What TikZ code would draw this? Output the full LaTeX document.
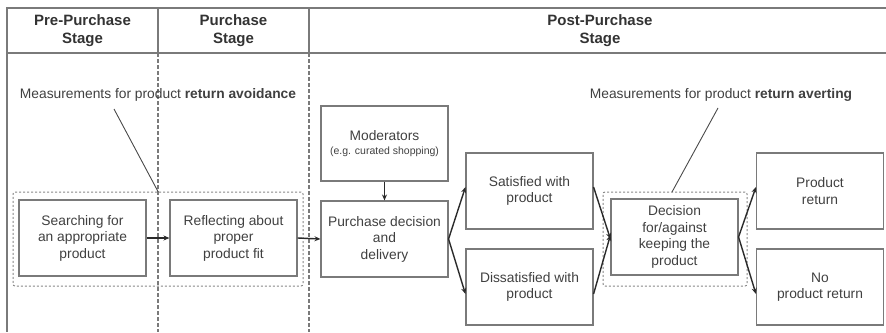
\documentclass[tikz,border=0pt]{standalone}
\usepackage{fontspec}
\setmainfont{Liberation Sans}
\usetikzlibrary{arrows.meta}
\definecolor{frame}{HTML}{7A7A7A}
\definecolor{txt}{HTML}{404040}
\definecolor{arr}{HTML}{2A2A2A}
\tikzset{
  box/.style={draw=frame, line width=1.1pt, minimum width=127pt, minimum height=76pt, align=center, text=txt, font=\fontsize{13.8}{16.5}\selectfont, inner sep=0pt},
  grp/.style={draw=frame!90, line width=1pt, dash pattern=on 2pt off 2pt, rounded corners=2pt},
  divider/.style={draw=frame, line width=1.3pt, dash pattern=on 3.5pt off 2.5pt},
  hline/.style={draw=frame, line width=1.4pt},
  conn/.style={draw=arr, line width=1.4pt, -{Stealth[length=6pt,width=5pt]}},
  leader/.style={draw=arr!85, line width=0.9pt},
  head/.style={align=center, text=txt!80!black, font=\fontsize{15}{18}\selectfont\bfseries},
  note/.style={text=txt, font=\fontsize{13.8}{16}\selectfont, inner sep=0pt}
}
\begin{document}
\begin{tikzpicture}[x=1pt,y=-1pt]
\useasboundingbox (0,0) rectangle (886,332);
% header frame
\draw[hline] (886,8) -- (7,8) -- (7,332);
\draw[hline] (7,53) -- (886,53);
\draw[hline] (158,8) -- (158,53);
\draw[hline] (309,8) -- (309,53);
\draw[divider] (158,53) -- (158,332);
\draw[divider] (309,53) -- (309,332);
\node[head] (h1) at (82.5,31) {Pre-Purchase\\Stage};
\node[head] (h2) at (233.5,31) {Purchase\\Stage};
\node[head] (h3) at (600,31) {Post-Purchase\\Stage};
% groups
\node[grp, minimum width=290pt, minimum height=94pt, inner sep=0pt] (g1) at (158,239) {};
\node[grp, minimum width=144pt, minimum height=94pt, inner sep=0pt] (g2) at (675,239) {};
% notes
\node[note] (n1) at (158,95) {Measurements for product \textbf{return avoidance}};
\node[note] (n2) at (721,95) {Measurements for product \textbf{return averting}};
\coordinate (n1e) at (114,109);
\coordinate (n2e) at (718,108);
\draw[leader] (n1e) -- (g1.north);
\draw[leader] (n2e) -- (672,192);
% boxes
\node[box] (s) at (82.5,238) {Searching for\\an appropriate\\product};
\node[box] (r) at (233.5,238) {Reflecting about\\proper\\product fit};
\node[box, minimum height=75pt] (m) at (384.5,143.5) {Moderators\\[-2pt]{\fontsize{10.5}{12}\selectfont (e.g. curated shopping)}};
\node[box] (p) at (384.5,239) {Purchase decision\\and\\delivery};
\node[box] (sat) at (529.5,191) {Satisfied with\\product};
\node[box] (dis) at (529.5,287) {Dissatisfied with\\product};
\node[box] (d) at (674.5,237) {Decision\\for/against\\keeping the\\product};
\node[box] (pr) at (820,191) {Product\\return};
\node[box] (npr) at (820,287) {No\\product return};
% connectors
\draw[conn] (s.east) -- (r.west);
\draw[conn] (r.east) -- (p.west);
\draw[conn] (m.south) -- (p.north);
\draw[conn] (p.east) -- ([yshift=4pt]sat.west);
\draw[conn] (p.east) -- ([yshift=-7pt]dis.west);
\draw[conn] ([yshift=4pt]sat.east) -- ([yshift=-2pt]d.west);
\draw[conn] ([yshift=-7pt]dis.east) -- ([yshift=2pt]d.west);
\draw[conn] (d.east) -- ([yshift=4pt]pr.west);
\draw[conn] (d.east) -- ([yshift=-7pt]npr.west);
\end{tikzpicture}
\end{document}
